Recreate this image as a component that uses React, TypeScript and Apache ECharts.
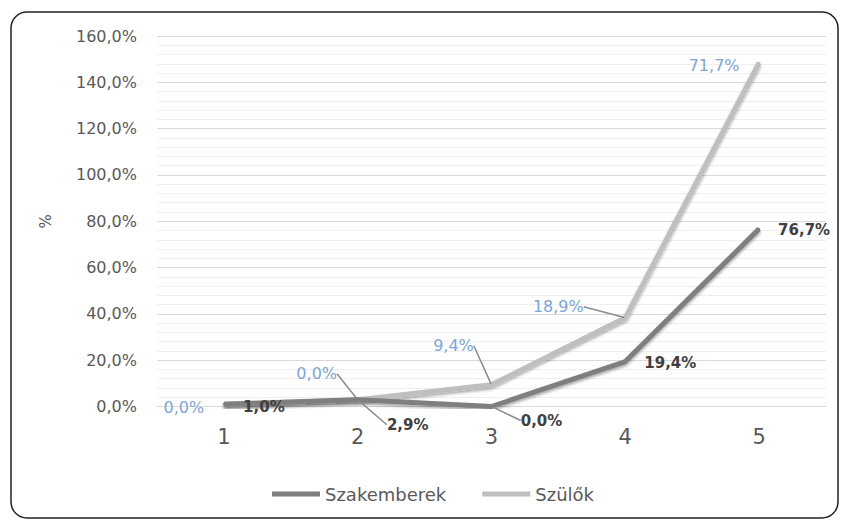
import React, { useEffect, useRef } from "react";
import * as echarts from "echarts";

const categories = ["1", "2", "3", "4", "5"];
const szakemberek = [1.0, 2.9, 0.0, 19.4, 76.7];
const szulok = [0.0, 0.0, 9.4, 18.9, 71.7];
const yTicks = { min: 0, max: 160, interval: 20 };

// label offsets (dx, dy) relative to each point, plus whether a leader line is drawn
const szakLabelOffsets = [
  [40, 3, false],
  [50, 25, true],
  [50, 14, true],
  [45, 1, false],
  [45, 1, false],
];
const szulLabelOffsets = [
  [-40, 3, false],
  [-41, -26, true],
  [-38, -39, true],
  [-67, -11, true],
  [-45, 3, false],
];

const fmt = (v: number) => v.toFixed(1).replace(".", ",") + "%";
const FONT = "'DejaVu Sans', 'Noto Sans', sans-serif";

export default function App() {
  const ref = useRef<HTMLDivElement>(null);
  useEffect(() => {
    if (!ref.current) return;
    const chart = echarts.init(ref.current, null, { renderer: "svg" });
    const shadow = {
      shadowColor: "rgba(0,0,0,0.35)",
      shadowBlur: 3,
      shadowOffsetY: 2,
    };
    const mkData = (vals: number[], offs: any[]) =>
      vals.map((v, i) => ({
        value: v,
        labelLine: { show: offs[i][2] },
      }));
    chart.setOption({
      animation: false,
      graphic: [
        {
          type: "rect",
          shape: { x: 11, y: 12, width: 827, height: 506, r: 16 },
          style: { fill: "#fff", stroke: "#222", lineWidth: 1.5 },
          z: -10,
          silent: true,
        },
      ],
      grid: { left: 157, right: 15, top: 36, bottom: 114.5 },
      legend: {
        left: 267,
        top: 480,
        icon: "rect",
        itemWidth: 48,
        itemHeight: 5,
        itemGap: 36,
        textStyle: { fontSize: 18, color: "#595959", fontFamily: FONT },
        data: ["Szakemberek", "Szülők"],
      },
      xAxis: {
        type: "category",
        data: categories,
        boundaryGap: true,
        axisLine: { show: true, lineStyle: { color: "#D9D9D9", width: 1 } },
        axisTick: { show: false },
        axisLabel: { fontSize: 21, color: "#595959", margin: 20, fontFamily: FONT },
      },
      yAxis: {
        type: "value",
        min: yTicks.min,
        max: yTicks.max,
        interval: yTicks.interval,
        name: "%",
        nameLocation: "middle",
        nameGap: 104,
        nameRotate: 90,
        nameTextStyle: { fontSize: 15, color: "#595959", fontFamily: FONT },
        axisLine: { show: false },
        axisTick: { show: false },
        axisLabel: {
          fontSize: 16,
          color: "#595959",
          margin: 20,
          fontFamily: FONT,
          formatter: (v: number) => fmt(v),
        },
        splitLine: { show: true, lineStyle: { color: "#D9D9D9", width: 1 } },
        minorTick: { show: false, splitNumber: 5 },
        minorSplitLine: { show: true, lineStyle: { color: "#EFEFEF", width: 1 } },
      },
      series: [
        {
          name: "Szakemberek",
          type: "line",
          stack: "total",
          data: mkData(szakemberek, szakLabelOffsets),
          symbol: "circle",
          symbolSize: 2,
          itemStyle: { color: "#7F7F7F" },
          lineStyle: { color: "#7F7F7F", width: 5, ...shadow },
          z: 3,
          label: {
            show: true,
            position: "inside",
            fontSize: 15,
            fontWeight: "bold",
            color: "#404040",
            fontFamily: FONT,
            formatter: (p: any) => fmt(p.value),
          },
          labelLine: { show: true, lineStyle: { color: "#8C8C8C", width: 1.5 } },
          labelLayout: (p: any) => ({
            dx: szakLabelOffsets[p.dataIndex][0],
            dy: szakLabelOffsets[p.dataIndex][1],
          }),
        },
        {
          name: "Szülők",
          type: "line",
          stack: "total",
          data: mkData(szulok, szulLabelOffsets),
          symbol: "circle",
          symbolSize: 2,
          itemStyle: { color: "#BFBFBF" },
          lineStyle: { color: "#BFBFBF", width: 5, ...shadow },
          z: 2,
          label: {
            show: true,
            position: "inside",
            fontSize: 16,
            color: "#7EA6D6",
            fontFamily: FONT,
            formatter: (p: any) => fmt(p.value),
          },
          labelLine: { show: true, lineStyle: { color: "#8C8C8C", width: 1.5 } },
          labelLayout: (p: any) => ({
            dx: szulLabelOffsets[p.dataIndex][0],
            dy: szulLabelOffsets[p.dataIndex][1],
          }),
        },
      ],
    });
    return () => chart.dispose();
  }, []);
  return (
    <div
      ref={ref}
      style={{ position: "fixed", left: 0, top: 0, width: 841, height: 521, background: "#fff" }}
    />
  );
}
